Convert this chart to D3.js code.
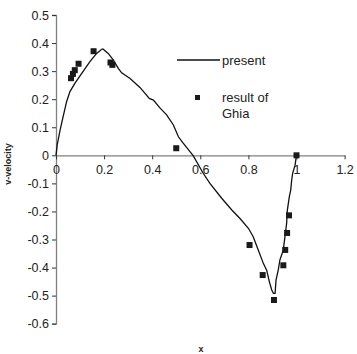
<!DOCTYPE html>
<html><head><meta charset="utf-8">
<script src="https://cdn.jsdelivr.net/npm/d3@7"></script>
<style>body{margin:0;background:#fff}svg{display:block}text{font-family:"Liberation Sans",Arial,sans-serif}</style>
</head><body>
<svg id="c" width="357" height="354"></svg>
<script>
const xTicks = [0, 0.2, 0.4, 0.6, 0.8, 1, 1.2];
const yTicks = [0.5, 0.4, 0.3, 0.2, 0.1, 0, -0.1, -0.2, -0.3, -0.4, -0.5, -0.6];
// present (simulation) curve
const presentX = [0,0.005,0.017,0.028,0.044,0.058,0.079,0.107,0.141,0.169,0.190,0.195,0.217,0.238,0.259,0.273,0.308,0.349,0.388,0.405,0.432,0.460,0.488,0.509,0.528,0.557,0.571,0.612,0.640,0.689,0.731,0.765,0.800,0.820,0.841,0.862,0.876,0.887,0.897,0.904,0.911,0.915,0.924,0.931,0.945,0.952,0.959,0.962,0.970,0.976,0.980,0.984,0.994,1.0];
const presentY = [0,0.037,0.090,0.132,0.191,0.227,0.257,0.292,0.334,0.363,0.378,0.379,0.363,0.340,0.310,0.294,0.274,0.242,0.203,0.197,0.169,0.144,0.108,0.066,0.044,0.013,-0.002,-0.064,-0.100,-0.153,-0.195,-0.225,-0.260,-0.290,-0.337,-0.385,-0.409,-0.450,-0.480,-0.492,-0.492,-0.444,-0.409,-0.373,-0.338,-0.290,-0.242,-0.195,-0.148,-0.124,-0.088,-0.064,-0.035,0];
// result of Ghia
const ghiaX = [0.0625,0.0703,0.0781,0.0938,0.1563,0.2266,0.2344,0.5,0.8047,0.8594,0.9063,0.9453,0.9531,0.9609,0.9688,1.0];
const ghiaY = [0.27485,0.29012,0.30353,0.32627,0.37095,0.33075,0.32235,0.02526,-0.31966,-0.42665,-0.51550,-0.39188,-0.33714,-0.27669,-0.21388,0];

const svg = d3.select("#c");
const x = d3.scaleLinear().domain([0, 1.2]).range([56, 344.6]);
const y = d3.scaleLinear().domain([-0.6, 0.5]).range([323.7, 15]);
const axisCol = "#808080", txtCol = "#222";

// y axis
const ya = svg.append("g").attr("transform", `translate(${x(0)},0)`)
  .call(d3.axisLeft(y).tickValues(yTicks).tickSize(4).tickPadding(3).tickFormat(d => d3.format("")(d).replace("−","-")));
ya.select(".domain").attr("stroke", axisCol).attr("stroke-width", 1.3);
ya.selectAll(".tick line").attr("stroke", "#333");
ya.selectAll("text").attr("fill", txtCol).style("font-size", "12.5px").style("font-family", '"Liberation Sans",Arial,sans-serif');

// x axis
const xa = svg.append("g").attr("transform", `translate(0,${y(0)})`)
  .call(d3.axisBottom(x).tickValues(xTicks).tickSize(4).tickPadding(6).tickSizeOuter(0).tickFormat(d => d3.format("")(d)));
xa.select(".domain").attr("stroke", axisCol).attr("stroke-width", 1.3);
xa.selectAll(".tick line").attr("stroke", "#333");
xa.selectAll("text").attr("fill", txtCol).style("font-size", "12.5px").style("font-family", '"Liberation Sans",Arial,sans-serif');

// present line
const pts = presentX.map((v, i) => [v, presentY[i]]);
svg.append("path").datum(pts)
  .attr("d", d3.line().x(d => x(d[0])).y(d => y(d[1])))
  .attr("fill", "none").attr("stroke", "#111").attr("stroke-width", 1.3);

// Ghia markers
const sz = 6;
svg.append("g").selectAll("rect").data(ghiaX.map((v, i) => [v, ghiaY[i]])).join("rect")
  .attr("x", d => x(d[0]) - sz / 2).attr("y", d => y(d[1]) - sz / 2)
  .attr("width", sz).attr("height", sz).attr("fill", "#1a1a1a");

// legend
svg.append("line").attr("x1", 177).attr("x2", 220).attr("y1", 60).attr("y2", 60).attr("stroke", "#111").attr("stroke-width", 1.3);
svg.append("text").attr("x", 222).attr("y", 64.5).text("present").attr("fill", txtCol).style("font-size", "13px");
svg.append("rect").attr("x", 195).attr("y", 95).attr("width", 5).attr("height", 5).attr("fill", "#1a1a1a");
svg.append("text").attr("x", 222).attr("y", 102).text("result of").attr("fill", txtCol).style("font-size", "13px");
svg.append("text").attr("x", 222).attr("y", 118).text("Ghia").attr("fill", txtCol).style("font-size", "13px");

// axis titles
svg.append("text").attr("transform", "translate(11,164) rotate(-90)").attr("text-anchor", "middle")
  .text("v-velocity").attr("fill", txtCol).style("font-size", "9px").style("font-weight", "bold");
svg.append("text").attr("x", 201).attr("y", 352).attr("text-anchor", "middle")
  .text("x").attr("fill", txtCol).style("font-size", "9px").style("font-weight", "bold");
</script>
</body></html>
